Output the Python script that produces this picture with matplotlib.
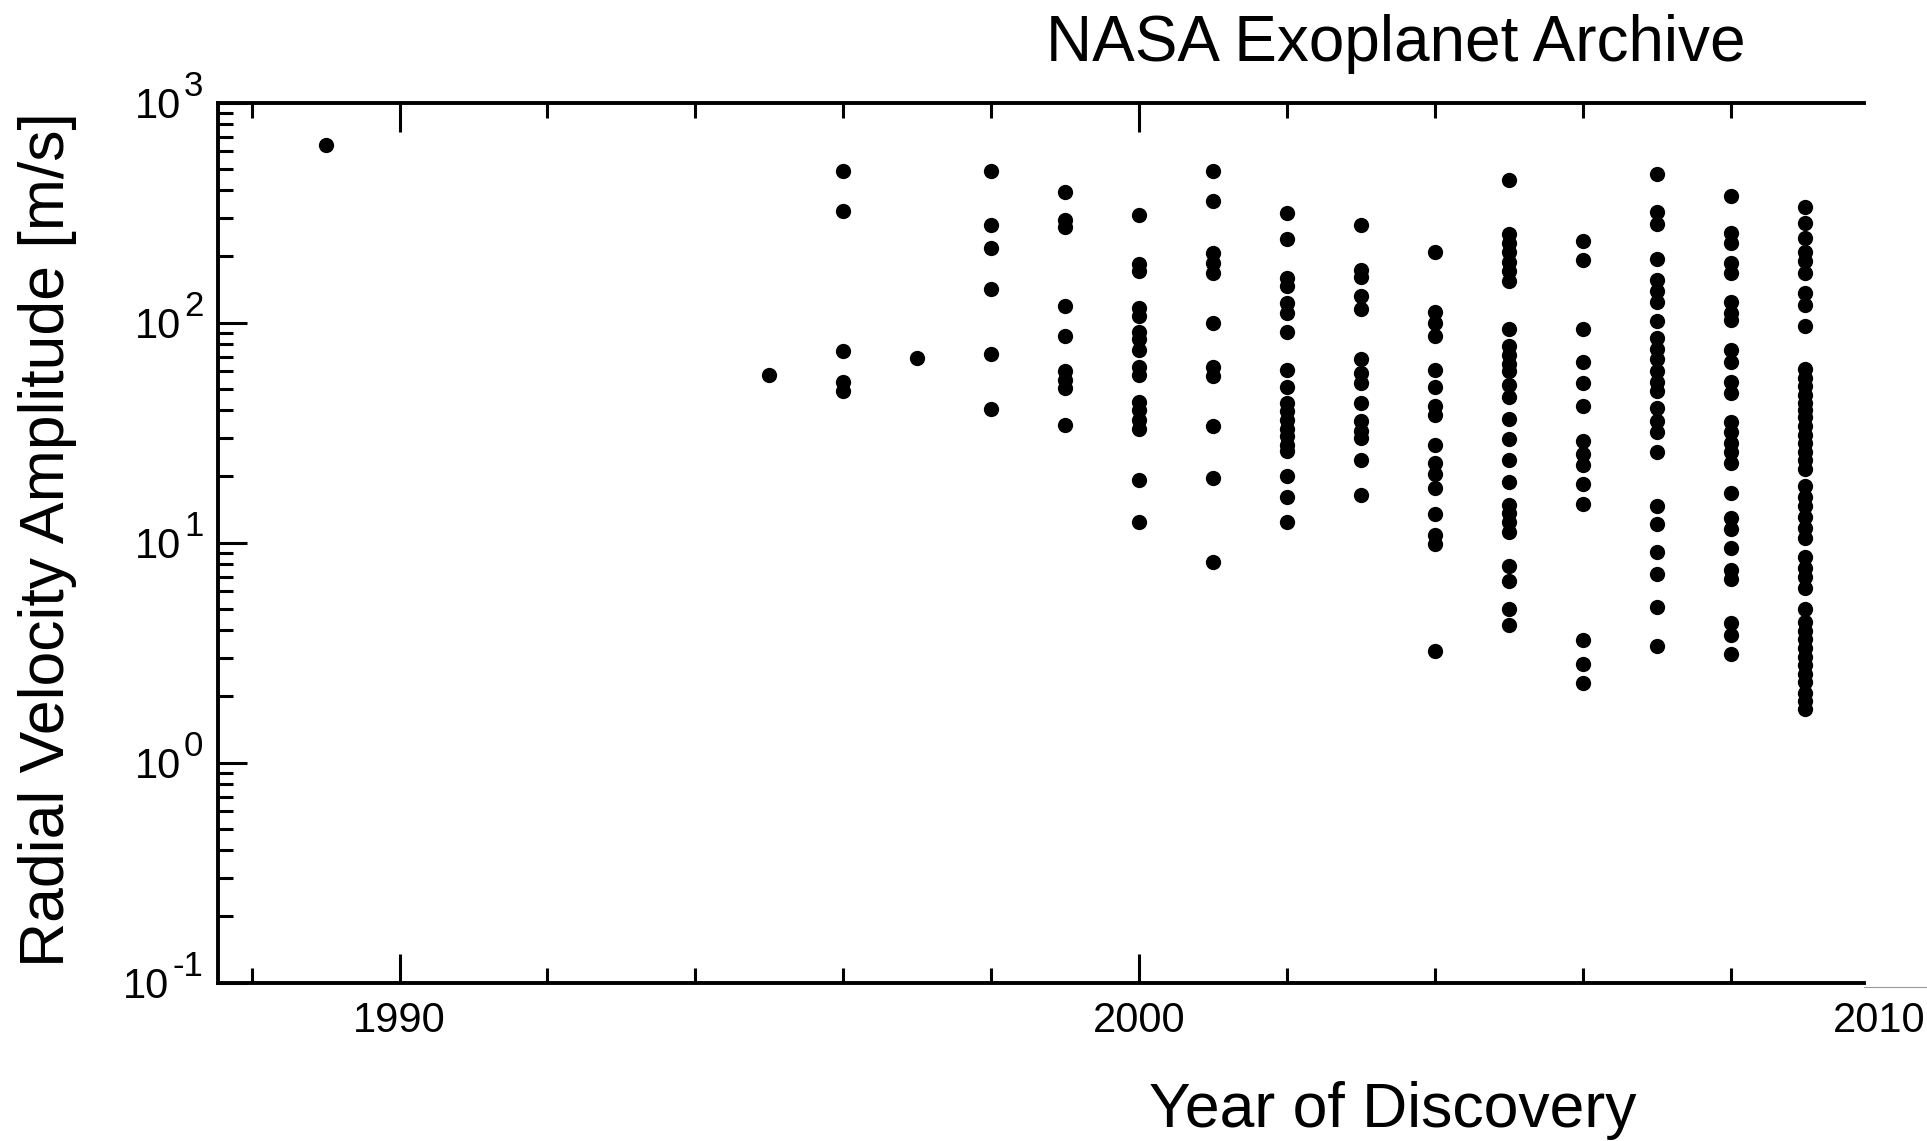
import matplotlib
matplotlib.use("Agg")
import matplotlib.pyplot as plt
from matplotlib.lines import Line2D
from matplotlib.ticker import (FixedLocator, FormatStrFormatter, LogLocator,
                               MultipleLocator, NullFormatter)

plt.rcParams["font.family"] = ["Liberation Sans", "DejaVu Sans"]

# Radial velocity semi-amplitude K [m/s] of planets, grouped by discovery year
rv_1989 = [640]
rv_1995 = [58]
rv_1996 = [487, 323, 74, 54, 49]
rv_1997 = [69]
rv_1998 = [487, 279, 218, 142, 72, 40.6]
rv_1999 = [391, 292, 272, 119, 87, 60, 55, 50.5, 34.4]
rv_2000 = [310, 184, 171, 117, 107, 91, 84, 75, 63, 58, 43.8, 40, 36, 33,
           19.3, 12.4]
rv_2001 = [487, 356, 207, 187, 168, 100, 63, 57, 34, 19.7, 8.2]
rv_2002 = [316, 241, 160, 146, 123, 111, 91, 61, 51, 43, 39.5, 36, 33, 30.4,
           27.9, 26, 20, 16.2, 12.4]
rv_2003 = [279, 174, 162, 132, 115, 68, 59, 53, 43, 35.6, 32, 30, 23.7, 16.5]
rv_2004 = [209, 112, 100, 87, 61, 51, 42, 38, 27.7, 22.9, 20.6, 17.8, 13.5,
           10.8, 9.9, 3.2]
rv_2005 = [444, 252, 230, 210, 189, 172, 155, 94, 78, 71, 65, 60, 52, 46,
           36.4, 29.7, 23.8, 18.8, 14.9, 13.6, 12.4, 11.2, 7.8, 6.7, 5.0, 4.2]
rv_2006 = [234, 193, 94, 66, 53, 42, 28.9, 25.2, 22.5, 18.5, 15, 3.6, 2.8, 2.3]
rv_2007 = [475, 319, 281, 195, 156, 139, 124, 102, 85.5, 76, 68, 60, 54, 48.8,
           41, 35.8, 31.8, 25.7, 14.7, 12.1, 9.1, 7.2, 5.1, 3.4]
rv_2008 = [377, 255, 230, 187, 169, 124, 111, 103, 75, 66, 54, 48, 35.5, 31.7,
           28.3, 25.8, 23.1, 16.8, 12.9, 11.5, 9.5, 7.5, 6.8, 4.3, 3.8, 3.1]
rv_2009 = [335, 285, 242, 209, 191, 169, 136, 120, 97, 61.5, 56.2, 51.4, 47,
           43, 39.9, 37.2, 34, 31, 28.4, 25.9, 23.7, 21.6, 18.1, 16.2, 14.6,
           13.1, 11.7, 10.5, 8.6, 7.7, 7.0, 6.2, 5.0, 4.36, 3.98, 3.64, 3.32,
           3.03, 2.77, 2.54, 2.32, 2.08, 1.9, 1.75]

years = [1989, 1995, 1996, 1997, 1998, 1999, 2000, 2001, 2002, 2003, 2004,
         2005, 2006, 2007, 2008, 2009]
amplitudes = [rv_1989, rv_1995, rv_1996, rv_1997, rv_1998, rv_1999, rv_2000,
              rv_2001, rv_2002, rv_2003, rv_2004, rv_2005, rv_2006, rv_2007,
              rv_2008, rv_2009]

x_ticks = [1990, 2000]
y_exponents = [-1, 0, 1, 2, 3]

fig = plt.figure(figsize=(19.27, 11.41), dpi=100)
ax = fig.add_axes([0.1133, 0.1389, 0.8540, 0.7711])

for yr, k in zip(years, amplitudes):
    ax.plot([yr] * len(k), k, "o", color="black", markersize=11,
            markeredgewidth=0, linestyle="none")

ax.set_yscale("log")
ax.set_ylim(0.1, 1000)
ax.set_xlim(1987.55, 2009.8)

ax.xaxis.set_major_locator(FixedLocator(x_ticks))
ax.xaxis.set_major_formatter(FormatStrFormatter("%d"))
ax.xaxis.set_minor_locator(MultipleLocator(2))
ax.yaxis.set_major_locator(LogLocator(base=10, numticks=10))
ax.yaxis.set_minor_locator(LogLocator(base=10, subs=range(2, 10), numticks=20))
ax.yaxis.set_minor_formatter(NullFormatter())

ax.tick_params(axis="x", which="both", direction="in", bottom=True, top=True,
               labelsize=30, pad=13)
ax.tick_params(axis="y", which="both", direction="in", left=True, right=False,
               labelleft=False)
ax.tick_params(which="major", length=21, width=2.2)
ax.tick_params(which="minor", length=11, width=2.2)

ax.spines["right"].set_visible(False)
for side in ["left", "bottom", "top"]:
    ax.spines[side].set_linewidth(2.8)

# 10^n labels with a large exponent
ytrans = ax.get_yaxis_transform()
for e in y_exponents:
    sup = ax.annotate(str(e), xy=(0, 10.0 ** e), xycoords=ytrans,
                      xytext=(-15, 7), textcoords="offset pixels",
                      ha="right", va="baseline", fontsize=25,
                      annotation_clip=False)
    ax.annotate("10", xy=(0, 10.0 ** e), xycoords=(sup, ytrans),
                xytext=(-3, -15), textcoords="offset pixels",
                ha="right", va="baseline", fontsize=30,
                annotation_clip=False)

# last year label sits just past the end of the axis
ax.annotate("2010", xy=(2010, 0), xycoords=ax.get_xaxis_transform(),
            xytext=(0, -18), textcoords="offset pixels",
            ha="center", va="top", fontsize=30, annotation_clip=False)

fig.add_artist(Line2D([1864 / 1927, 1.0], [1 - 986.5 / 1141] * 2,
                      transform=fig.transFigure, color="#9a9a9a",
                      linewidth=0.8))

fig.text(1396 / 1927, 1 - 61 / 1141, "NASA Exoplanet Archive",
         ha="center", va="baseline", fontsize=46)
fig.text(1393 / 1927, 1 - 1127 / 1141, "Year of Discovery",
         ha="center", va="baseline", fontsize=45)
fig.text(18 / 1927, 1 - 540 / 1141, "Radial Velocity Amplitude [m/s]",
         rotation=90, ha="left", va="center", fontsize=45)

fig.savefig("out.png", dpi=100)
